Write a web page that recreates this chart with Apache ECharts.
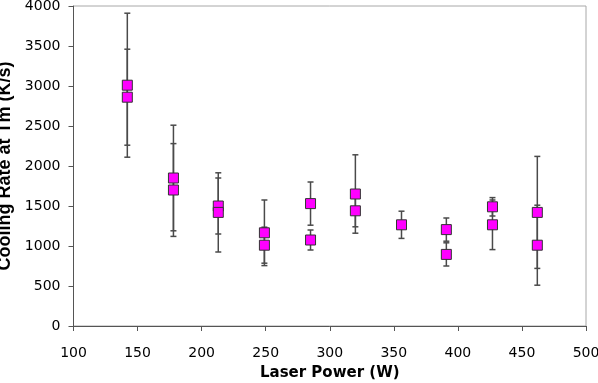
<!DOCTYPE html>
<html>
<head>
<meta charset="utf-8">
<script src="https://cdn.jsdelivr.net/npm/echarts@6/dist/echarts.min.js"></script>
<style>
html,body{margin:0;padding:0;background:#fff;}
#c{width:598px;height:383px;}
</style>
</head>
<body>
<div id="c"></div>
<script>
// Data
const laserPower = [142, 178, 213, 249, 285, 320, 356, 391, 427, 462];
const rateA = [3010, 1850, 1500, 1165, 1530, 1650, 1265, 1205, 1490, 1420];
const errA  = [900, 660, 350, 410, 270, 490, 170, 145, 115, 700];
const rateB = [2860, 1700, 1420, 1010, 1075, 1440, null, 895, 1265, 1010];
const errB  = [600, 580, 495, 225, 125, 200, null, 145, 310, 500];
const xTicks = [100, 150, 200, 250, 300, 350, 400, 450, 500];
const yTicks = [0, 500, 1000, 1500, 2000, 2500, 3000, 3500, 4000];

function pts(vals) {
  const out = [];
  laserPower.forEach((x, i) => { if (vals[i] != null) out.push([x, vals[i]]); });
  return out;
}
function errs(vals, e) {
  const out = [];
  laserPower.forEach((x, i) => { if (vals[i] != null) out.push([x, vals[i] - e[i], vals[i] + e[i]]); });
  return out;
}

function errorRender(params, api) {
  const x = api.value(0);
  const lo = api.coord([x, api.value(1)]);
  const hi = api.coord([x, api.value(2)]);
  const cap = 3;
  const style = { stroke: '#4a4a4a', lineWidth: 1.5, fill: null };
  return {
    type: 'group',
    children: [
      { type: 'line', shape: { x1: lo[0], y1: lo[1], x2: hi[0], y2: hi[1] }, style: style },
      { type: 'line', shape: { x1: lo[0] - cap, y1: lo[1], x2: lo[0] + cap, y2: lo[1] }, style: style },
      { type: 'line', shape: { x1: hi[0] - cap, y1: hi[1], x2: hi[0] + cap, y2: hi[1] }, style: style }
    ]
  };
}

const chart = echarts.init(document.getElementById('c'), null, { renderer: 'canvas' });
const font = '"DejaVu Sans", "Liberation Sans", Arial, sans-serif';
const fontY = '"Liberation Sans", Arial, sans-serif';
chart.setOption({
  animation: false,
  backgroundColor: '#fff',
  grid: { left: 73.5, right: 12, top: 6, bottom: 57, show: true, borderColor: '#a8a8a8', borderWidth: 1,
          containLabel: false, outerBoundsMode: 'none' },
  xAxis: {
    type: 'value', min: xTicks[0], max: xTicks[xTicks.length - 1], interval: 50,
    name: 'Laser Power (W)', nameLocation: 'middle', nameGap: 40,
    nameTextStyle: { fontFamily: font, fontSize: 15, fontWeight: 'bold', color: '#000' },
    axisLine: { show: true, lineStyle: { color: '#555', width: 1 } },
    axisTick: { show: true, inside: false, length: 5, lineStyle: { color: '#555' } },
    axisLabel: { margin: 20, fontFamily: font, fontSize: 14, color: '#000', formatter: v => String(v) },
    splitLine: { show: false }
  },
  yAxis: {
    type: 'value', min: yTicks[0], max: yTicks[yTicks.length - 1], interval: 500,
    name: 'Cooling Rate at Tm (K/s)', nameLocation: 'middle', nameGap: 49,
    nameTextStyle: { fontFamily: fontY, fontSize: 18, fontWeight: 'bold', color: '#000' },
    axisLine: { show: true, lineStyle: { color: '#555', width: 1 } },
    axisTick: { show: true, inside: false, length: 5, lineStyle: { color: '#555' } },
    axisLabel: { margin: 13, fontFamily: font, fontSize: 14, color: '#000', formatter: v => String(v) },
    splitLine: { show: false }
  },
  series: [
    { type: 'custom', renderItem: errorRender, data: errs(rateA, errA), z: 2, encode: { x: 0, y: [1, 2] } },
    { type: 'custom', renderItem: errorRender, data: errs(rateB, errB), z: 2, encode: { x: 0, y: [1, 2] } },
    { type: 'scatter', data: pts(rateA), symbol: 'rect', symbolSize: 10, z: 5,
      itemStyle: { color: '#ff00ff', borderColor: '#333', borderWidth: 1, opacity: 1 } },
    { type: 'scatter', data: pts(rateB), symbol: 'rect', symbolSize: 10, z: 5,
      itemStyle: { color: '#ff00ff', borderColor: '#333', borderWidth: 1, opacity: 1 } }
  ]
});
</script>
</body>
</html>
